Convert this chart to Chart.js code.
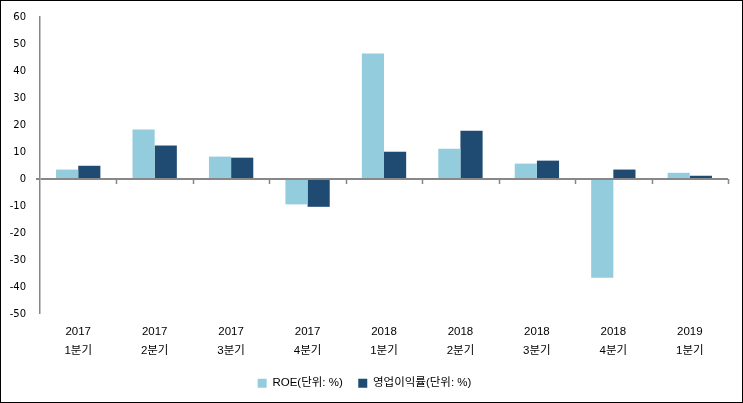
<!DOCTYPE html>
<html>
<head>
<meta charset="utf-8">
<script src="https://cdn.jsdelivr.net/npm/chart.js@4"></script>
<style>
html,body{margin:0;padding:0;background:#fff;}
#wrap{width:741px;height:401px;border:1px solid #000;position:relative;}
canvas{display:block;}
</style>
</head>
<body>
<div id="wrap"><canvas id="c" width="741" height="401"></canvas></div>
<script>
const years = ["2017","2017","2017","2017","2018","2018","2018","2018","2019"];
const quarters = ["1분기","2분기","3분기","4분기","1분기","2분기","3분기","4분기","1분기"];
const roe = [3.5, 18.3, 8.3, -9.4, 46.5, 11.2, 5.7, -36.6, 2.3];
const opMargin = [4.9, 12.4, 7.9, -10.3, 10.1, 17.9, 6.8, 3.5, 1.2];
const seriesNames = ["ROE(단위: %)", "영업이익률(단위: %)"];
const yTicks = {min: -50, max: 60, step: 10};

const FONT = "'DejaVu Sans', 'Noto Sans CJK KR', sans-serif";
const FONT2 = "'Liberation Sans', 'Noto Sans CJK KR', sans-serif";
const labels = years.map((y, i) => [y, quarters[i]]);

const zeroTicks = {
  id: 'zeroTicks',
  afterDatasetsDraw(chart) {
    const xs = chart.scales.x, ys = chart.scales.y;
    const y0 = ys.getPixelForValue(0);
    const n = labels.length;
    const ctx = chart.ctx;
    ctx.save();
    ctx.strokeStyle = '#878787';
    ctx.lineWidth = 1.5;
    for (let i = 1; i <= n; i++) {
      const x = Math.round(xs.left + i * xs.width / n) + 0.5;
      ctx.beginPath();
      ctx.moveTo(x, y0);
      ctx.lineTo(x, y0 + 5);
      ctx.stroke();
    }
    ctx.restore();
  }
};

new Chart(document.getElementById('c'), {
  type: 'bar',
  data: {
    labels: labels,
    datasets: [
      {label: seriesNames[0], data: roe, backgroundColor: '#93CDDD', barPercentage: 1, categoryPercentage: 0.58},
      {label: seriesNames[1], data: opMargin, backgroundColor: '#1F4A72', barPercentage: 1, categoryPercentage: 0.58}
    ]
  },
  options: {
    responsive: false,
    animation: false,
    layout: {padding: {left: 0, right: 14, top: 11, bottom: 3}},
    plugins: {
      tooltip: {enabled: false},
      legend: {
        position: 'bottom',
        labels: {
          font: {family: FONT2, size: 11.5},
          color: '#000',
          boxWidth: 9,
          boxHeight: 9,
          padding: 15.5
        }
      }
    },
    scales: {
      x: {
        grid: {display: false},
        border: {display: false},
        ticks: {font: {family: FONT2, size: 11.5, lineHeight: 1.65}, color: '#000', padding: 0, maxRotation: 0},
        afterFit(s) { s.height = 48; }
      },
      y: {
        min: yTicks.min, max: yTicks.max,
        ticks: {stepSize: yTicks.step, font: {family: FONT, size: 10}, color: '#000', padding: 10},
        grid: {
          drawOnChartArea: true,
          color: c => c.tick && c.tick.value === 0 ? '#878787' : 'rgba(0,0,0,0)',
          lineWidth: c => c.tick && c.tick.value === 0 ? 2 : 0,
          tickColor: '#878787',
          tickLength: 4
        },
        border: {display: true, color: '#878787', width: 1.5},
        afterFit(s) { s.width = 39; }
      }
    }
  },
  plugins: [zeroTicks]
});
</script>
</body>
</html>
